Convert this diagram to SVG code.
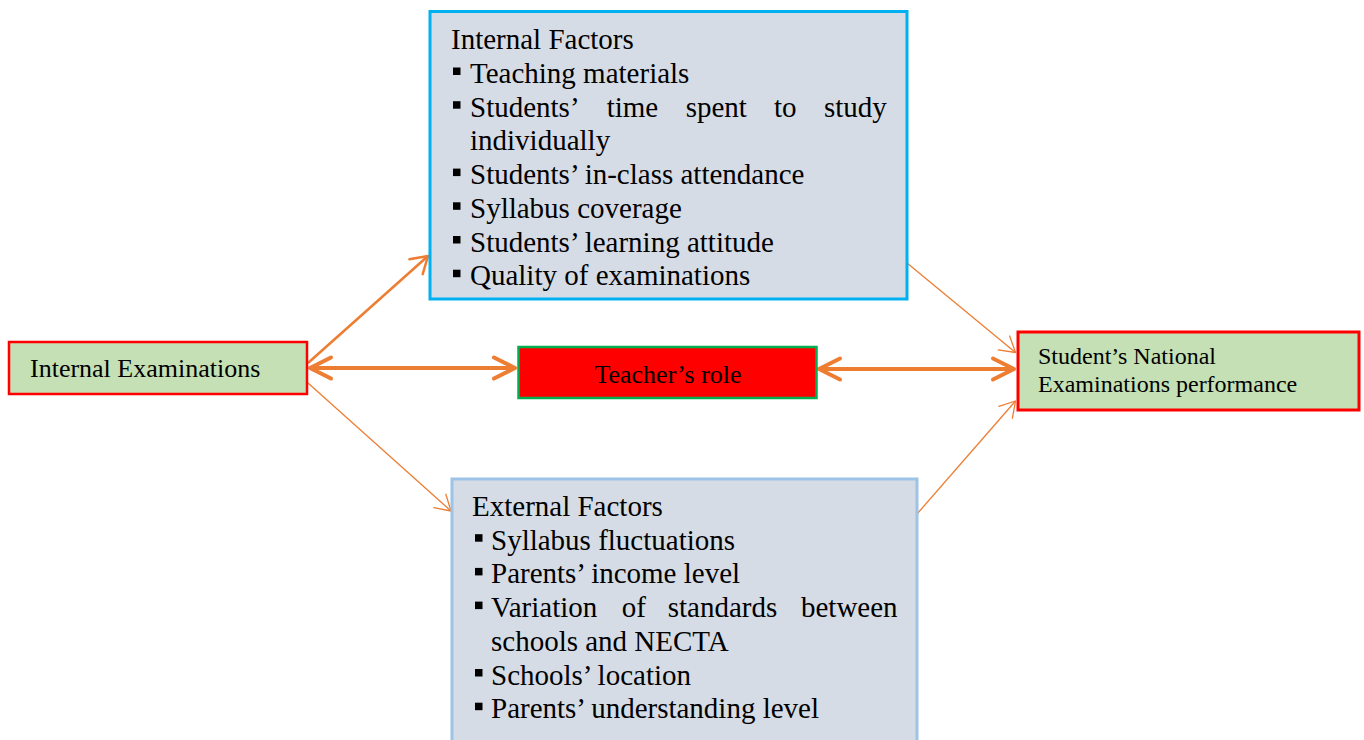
<svg xmlns="http://www.w3.org/2000/svg" width="1364" height="740" viewBox="0 0 1364 740">
<defs>
<style>
.t{font-family:"Liberation Serif","Times New Roman",serif;fill:#000}
.f29{font-size:29px}
.f26{font-size:26px}
.f24{font-size:24px}
.fac{fill:#d6dce5;stroke-width:3}
.grn{fill:#c5e0b4;stroke:#ff0000}
.bul{fill:#000}
.ln{fill:none;stroke:#ed7d31}
</style>
<marker id="ahThick" markerUnits="userSpaceOnUse" viewBox="-26 -14 30 28" markerWidth="30" markerHeight="28" refX="0" refY="0" orient="auto-start-reverse" overflow="visible">
<path d="M-21,-10.5 L0,0 L-21,10.5" fill="none" stroke="#ed7d31" stroke-width="4" stroke-linecap="round" stroke-linejoin="round"/>
</marker>
<marker id="ahMed" markerUnits="userSpaceOnUse" viewBox="-20 -13 22 26" markerWidth="22" markerHeight="26" refX="0" refY="0" orient="auto" overflow="visible">
<path d="M-16,-10 L0,0 L-16,10" fill="none" stroke="#ed7d31" stroke-width="2.5" stroke-linecap="round" stroke-linejoin="round"/>
</marker>
<marker id="ahThin" markerUnits="userSpaceOnUse" viewBox="-18 -11 20 22" markerWidth="20" markerHeight="22" refX="0" refY="0" orient="auto" overflow="visible">
<path d="M-15,-9 L0,0 L-15,9" fill="none" stroke="#ed7d31" stroke-width="1.3" stroke-linecap="round" stroke-linejoin="round"/>
</marker>
<rect id="sq" width="7.5" height="7.5"/>
</defs>

<g id="connectors">
<line class="ln" x1="308" y1="363" x2="428" y2="256" stroke-width="2.5" marker-end="url(#ahMed)"/>
<line class="ln" x1="310" y1="368" x2="515" y2="368" stroke-width="4" marker-start="url(#ahThick)" marker-end="url(#ahThick)"/>
<line class="ln" x1="308" y1="383" x2="451" y2="511" stroke-width="1.3" marker-end="url(#ahThin)"/>
<line class="ln" x1="907" y1="263" x2="1015.5" y2="352.5" stroke-width="1.3" marker-end="url(#ahThin)"/>
<line class="ln" x1="819" y1="369" x2="1014" y2="369" stroke-width="4" marker-start="url(#ahThick)" marker-end="url(#ahThick)"/>
<line class="ln" x1="917" y1="514" x2="1015.5" y2="401" stroke-width="1.3" marker-end="url(#ahThin)"/>
</g>

<g id="internal-factors">
<rect class="fac" x="430" y="11.5" width="477" height="287.5" stroke="#00b0f0"/>
<text class="t f29" x="451" y="49.3">Internal Factors</text>
<g class="bul">
<use href="#sq" x="453" y="67.5"/>
<use href="#sq" x="453" y="101.2"/>
<use href="#sq" x="453" y="168.6"/>
<use href="#sq" x="453" y="202.3"/>
<use href="#sq" x="453" y="236"/>
<use href="#sq" x="453" y="269.7"/>
</g>
<text class="t f29" x="470" y="83">Teaching materials</text>
<text class="t f29" y="116.7"><tspan x="470">Students’</tspan><tspan x="606.7">time</tspan><tspan x="685.7">spent</tspan><tspan x="774">to</tspan><tspan x="824">study</tspan></text>
<text class="t f29" x="470" y="150.4">individually</text>
<text class="t f29" x="470" y="184.1">Students’ in-class attendance</text>
<text class="t f29" x="470" y="217.8">Syllabus coverage</text>
<text class="t f29" x="470" y="251.5">Students’ learning attitude</text>
<text class="t f29" x="470" y="285.2">Quality of examinations</text>
</g>

<g id="external-factors">
<rect class="fac" x="452" y="479" width="465" height="275" stroke="#9dc3e6"/>
<text class="t f29" x="472" y="516">External Factors</text>
<g class="bul">
<use href="#sq" x="475" y="534.2"/>
<use href="#sq" x="475" y="567.9"/>
<use href="#sq" x="475" y="601.6"/>
<use href="#sq" x="475" y="669"/>
<use href="#sq" x="475" y="702.7"/>
</g>
<text class="t f29" x="491" y="549.7">Syllabus fluctuations</text>
<text class="t f29" x="491" y="583.4">Parents’ income level</text>
<text class="t f29" y="617.1"><tspan x="491">Variation</tspan><tspan x="621.7">of</tspan><tspan x="667.7">standards</tspan><tspan x="801">between</tspan></text>
<text class="t f29" x="491" y="650.8">schools and NECTA</text>
<text class="t f29" x="491" y="684.5">Schools’ location</text>
<text class="t f29" x="491" y="718.2">Parents’ understanding level</text>
</g>

<g id="internal-examinations">
<rect class="grn" x="9" y="342" width="298" height="52" stroke-width="2.5"/>
<text class="t f26" x="30" y="377">Internal Examinations</text>
</g>

<g id="teachers-role">
<rect x="518.5" y="347" width="298" height="51" fill="#ff0000" stroke="#00b050" stroke-width="2.5"/>
<text class="t f26" x="668" y="383" text-anchor="middle">Teacher’s role</text>
</g>

<g id="national-performance">
<rect class="grn" x="1018" y="332" width="341" height="78" stroke-width="3"/>
<text class="t f24" x="1038" y="364">Student’s National</text>
<text class="t f24" x="1038" y="392">Examinations performance</text>
</g>
</svg>
